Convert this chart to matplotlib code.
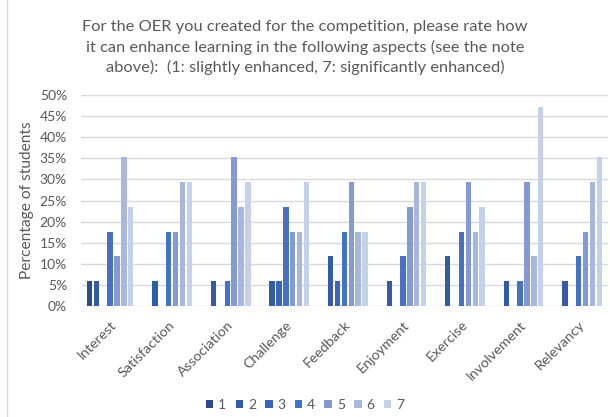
import matplotlib
matplotlib.use("Agg")
import matplotlib.pyplot as plt
from matplotlib.lines import Line2D
import numpy as np

plt.rcParams['font.family'] = ['Lato', 'DejaVu Sans']

aspects = ["Interest", "Satisfaction", "Association", "Challenge", "Feedback",
           "Enjoyment", "Exercise", "Involvement", "Relevancy"]
ratings = ["1", "2", "3", "4", "5", "6", "7"]

# number of students (out of 17) giving each rating, per aspect
n_students = 17
r1 = [1, 0, 0, 0, 0, 0, 0, 0, 0]
r2 = [1, 1, 1, 1, 2, 1, 2, 1, 1]
r3 = [0, 0, 0, 1, 1, 0, 0, 0, 0]
r4 = [3, 3, 1, 4, 3, 2, 3, 1, 2]
r5 = [2, 3, 6, 3, 5, 4, 5, 5, 3]
r6 = [6, 5, 4, 3, 3, 5, 3, 2, 5]
r7 = [4, 5, 5, 5, 3, 5, 4, 8, 6]
counts = [r1, r2, r3, r4, r5, r6, r7]

colors = ["#2B4C8C", "#335BA6", "#3B66B8", "#4472C4", "#8599D2", "#A8B7DE", "#C5D0EA"]
txt = "#595959"

fig = plt.figure(figsize=(6.10, 4.17), dpi=100)
ax = fig.add_axes([0.1326, 0.266, 0.8640, 0.506])

x = np.arange(len(aspects))
slot = 0.1174
for i, (row, c) in enumerate(zip(counts, colors)):
    pct = np.array(row) / n_students * 100
    ax.bar(x + (i - 3) * slot, pct, width=0.092, color=c, label=ratings[i], zorder=3)

ax.set_xlim(-0.5, len(aspects) - 0.5)
ax.set_ylim(0, 50)
ax.set_yticks(np.arange(0, 51, 5))
ax.set_yticklabels([f"{v}%" for v in range(0, 51, 5)], fontsize=10, color=txt)
ax.set_xticks(x)
ax.set_xticklabels(aspects, rotation=45, ha="right", rotation_mode="anchor",
                   fontsize=10.3, color=txt)
ax.tick_params(axis="both", length=0)
ax.tick_params(axis="x", pad=9)
ax.tick_params(axis="y", pad=10)
for s in ax.spines.values():
    s.set_visible(False)
ax.grid(axis="y", color="#D9D9D9", linewidth=1, zorder=0)
ax.set_axisbelow(True)

ax.set_ylabel("Percentage of students", fontsize=11.2, color=txt, labelpad=4)

fig.text(0.5, 0.886,
         "For the OER you created for the competition, please rate how\n"
         "it can enhance learning in the following aspects (see the note\n"
         "above):  (1: slightly enhanced, 7: significantly enhanced)",
         ha="center", va="center", fontsize=11.8, color=txt, linespacing=1.42)

fig.legend(loc="center", bbox_to_anchor=(0.5, 0.029), ncol=7, frameon=False,
           fontsize=10, handlelength=0.55, handleheight=0.55, handletextpad=0.35,
           columnspacing=0.65, labelcolor=txt)

fig.add_artist(Line2D([0.0115, 0.0115], [0, 1], color="#D9D9D9", linewidth=1,
                      transform=fig.transFigure))

fig.savefig("out.png", dpi=100)
